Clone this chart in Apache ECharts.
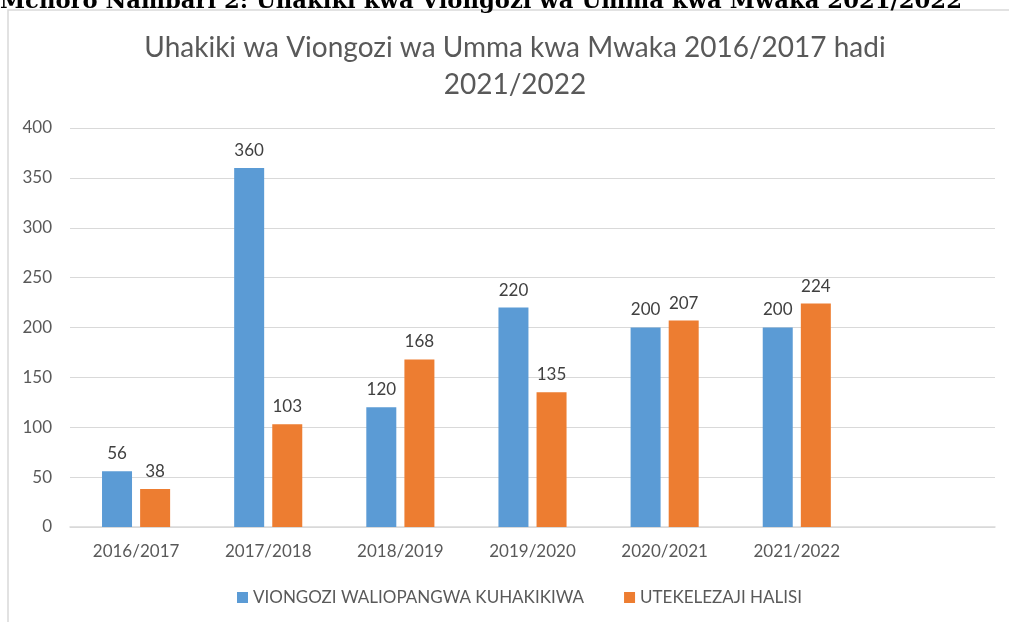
<!DOCTYPE html>
<html lang="sw">
<head>
    <meta charset="UTF-8">
    <title>Uhakiki wa Viongozi wa Umma</title>
    <script src="https://cdn.jsdelivr.net/npm/echarts@6/dist/echarts.min.js"></script>
</head>
<style>
    body {
        margin: 0;
        padding: 0;
        background: #ffffff;
    }
    #main {
        width: 1009px;
        height: 622px;
    }
</style>
<body>
<div id="main"></div>
<script type="text/javascript">
    // miaka (kategoria) - la mwisho ni nafasi tupu kama kwenye picha
    var miaka = ['2016/2017', '2017/2018', '2018/2019', '2019/2020', '2020/2021', '2021/2022', ''];
    var waliopangwa = [56, 360, 120, 220, 200, 200, '-'];
    var halisi = [38, 103, 168, 135, 207, 224, '-'];
    var yTicks = [0, 50, 100, 150, 200, 250, 300, 350, 400];

    var myChart = echarts.init(document.getElementById('main'));

    var lblStyle = {
        show: true,
        position: 'top',
        distance: 9,
        color: '#404040',
        fontSize: 17,
        fontFamily: 'Lato'
    };

    var option = {
        backgroundColor: '#ffffff',
        animation: false,
        title: {
            text: 'Uhakiki wa Viongozi wa Umma kwa Mwaka 2016/2017 hadi\n2021/2022',
            left: 510,
            textAlign: 'center',
            top: 24,
            textStyle: {
                color: '#595959',
                fontSize: 28,
                fontWeight: 'normal',
                fontFamily: 'Lato',
                lineHeight: 37
            }
        },
        graphic: [
            {
                type: 'rect',
                shape: { x: 8, y: 10, width: 1020, height: 640 },
                style: { fill: 'none', stroke: '#d9d9d9', lineWidth: 1.5 },
                silent: true
            },
            {
                type: 'text',
                left: 0,
                top: -9,
                style: {
                    text: 'Mchoro Nambari 2: Uhakiki kwa Viongozi wa Umma kwa Mwaka 2021/2022',
                    font: 'bold 22.7px "DejaVu Serif"',
                    fill: '#000000'
                },
                silent: true
            }
        ],
        legend: {
            bottom: 11,
            left: 232,
            icon: 'rect',
            itemWidth: 11,
            itemHeight: 11,
            itemGap: 40,
            textStyle: { color: '#595959', fontSize: 17, fontFamily: 'Lato' },
            data: ['VIONGOZI WALIOPANGWA KUHAKIKIWA', 'UTEKELEZAJI HALISI']
        },
        grid: {
            left: 70,
            right: 14,
            top: 128,
            bottom: 95
        },
        xAxis: {
            type: 'category',
            data: miaka,
            axisLine: { lineStyle: { color: '#d9d9d9', width: 1.5 } },
            axisTick: { show: false },
            axisLabel: { color: '#595959', fontSize: 17, fontFamily: 'Lato', margin: 16 }
        },
        yAxis: {
            type: 'value',
            min: yTicks[0],
            max: yTicks[yTicks.length - 1],
            interval: 50,
            axisLine: { show: false },
            axisTick: { show: false },
            axisLabel: { color: '#595959', fontSize: 17, fontFamily: 'Lato', margin: 18 },
            splitLine: { lineStyle: { color: '#d9d9d9', width: 1.2 } }
        },
        series: [
            {
                name: 'VIONGOZI WALIOPANGWA KUHAKIKIWA',
                type: 'bar',
                data: waliopangwa,
                barWidth: 30,
                barGap: '27%',
                itemStyle: { color: '#5b9bd5' },
                label: lblStyle
            },
            {
                name: 'UTEKELEZAJI HALISI',
                type: 'bar',
                data: halisi,
                barWidth: 30,
                itemStyle: { color: '#ed7d31' },
                label: lblStyle
            }
        ]
    };

    myChart.setOption(option);
</script>
</body>
</html>
